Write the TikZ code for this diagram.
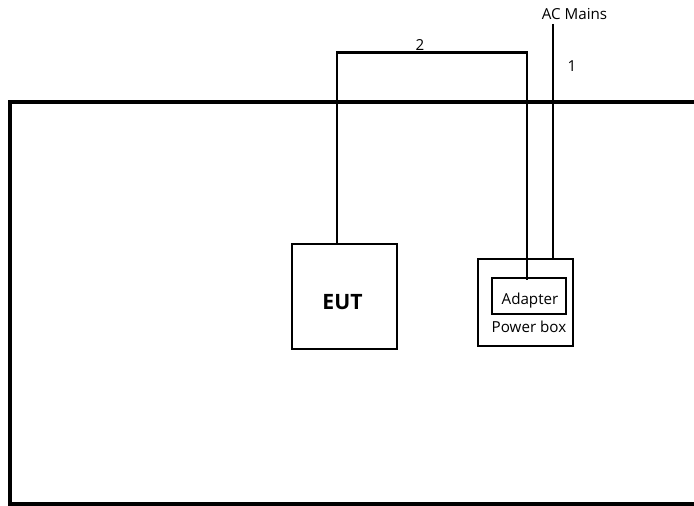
\documentclass[tikz,border=0pt]{standalone}
\usepackage{fontspec}
\setmainfont{Open Sans}
\usepackage{tikz}

\tikzset{
  box/.style={draw, line width=1.15pt, inner sep=0pt},
  cable/.style={line width=1.15pt},
  lbl/.style={font=\fontsize{8.6}{10}\selectfont, inner sep=0pt}
}

\begin{document}
\begin{tikzpicture}[x=0.567pt,y=-0.567pt]
\useasboundingbox (0,0) rectangle (694,506);
\clip (0,0) rectangle (694,506);
% room
\draw[line width=2.3pt] (720,102) -- (10.3,102) -- (10.3,504.5) -- (720,504.5);
% equipment
\node[box, minimum width=59.5pt, minimum height=59.5pt] (eut) at (344.5,296.5) {};
\node[font=\fontsize{12}{14}\selectfont\bfseries] (euttext) at (342.5,302) {EUT};
\node[box, minimum width=53.9pt, minimum height=49.3pt] (pbox) at (525.5,302.5) {};
\node[box, minimum width=42pt, minimum height=20.4pt] (adapter) at (529,296) {};
\node[lbl] (adaptertext) at (530,301) {Adapter};
\node[lbl] (pboxtext) at (529,327) {Power box};
% cables
\coordinate (c2a) at (336.7,52.5);
\coordinate (c2b) at (526.7,52.5);
\coordinate (c2end) at (526.7,280);
\coordinate (acin) at (552.7,24);
\coordinate (acout) at (552.7,259);
\draw[cable] (eut.north -| c2a) -- (c2a) -- (c2b) -- (c2end);
\draw[cable] (acin) -- (acout);
\node[lbl] (mains) at (574.5,14) {AC Mains};
\node[lbl] (one) at (572,66) {1};
\node[lbl] (two) at (420,45) {2};
\end{tikzpicture}
\end{document}
